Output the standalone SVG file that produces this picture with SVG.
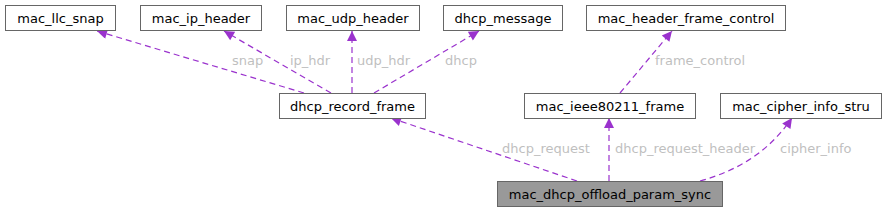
<svg xmlns="http://www.w3.org/2000/svg" width="887" height="212" viewBox="0 0 887 212">
<style>
.box{fill:#ffffff;stroke:#666666;stroke-width:1}
.cur{fill:#999999;stroke:#666666;stroke-width:1}
.t{font-family:"DejaVu Sans",sans-serif;font-size:13px;fill:#000000;text-anchor:middle}
.e{fill:none;stroke:#9a32cd;stroke-width:1.2;stroke-dasharray:6,4}
.l{font-family:"DejaVu Sans",sans-serif;font-size:13px;fill:#bfbfbf}
</style>
<defs>
<marker id="ah" viewBox="0 0 10 10" refX="10" refY="5" markerWidth="13" markerHeight="10" markerUnits="userSpaceOnUse" orient="auto">
<path d="M0,0 L10,5 L0,10 z" fill="#9a32cd"/>
</marker>
</defs>
<rect width="887" height="212" fill="#ffffff"/>
<g id="connectors">
<path class="e" d="M304,93 L97,31" marker-end="url(#ah)"/>
<path class="e" d="M331,93 L224,31" marker-end="url(#ah)"/>
<path class="e" d="M352,93 L352,31" marker-end="url(#ah)"/>
<path class="e" d="M374,93 L479,31" marker-end="url(#ah)"/>
<path class="e" d="M620,93 L672,31" marker-end="url(#ah)"/>
<path class="e" d="M577,181 L391,118" marker-end="url(#ah)"/>
<path class="e" d="M609,181 L609,118" marker-end="url(#ah)"/>
<path class="e" d="M700,181 C740,170 770,150 792,118" marker-end="url(#ah)"/>
<text class="l" x="232" y="65">snap</text>
<text class="l" x="290" y="65">ip_hdr</text>
<text class="l" x="357" y="65">udp_hdr</text>
<text class="l" x="445" y="65">dhcp</text>
<text class="l" x="655" y="65">frame_control</text>
<text class="l" x="502" y="153">dhcp_request</text>
<text class="l" x="615" y="153">dhcp_request_header</text>
<text class="l" x="780" y="153">cipher_info</text>
</g>
<g id="mac_llc_snap"><rect class="box" x="5.5" y="5.5" width="110" height="25"/><text class="t" x="60.5" y="22.5">mac_llc_snap</text></g>
<g id="mac_ip_header"><rect class="box" x="140.5" y="5.5" width="121" height="25"/><text class="t" x="201" y="22.5">mac_ip_header</text></g>
<g id="mac_udp_header"><rect class="box" x="286.5" y="5.5" width="133" height="25"/><text class="t" x="353" y="22.5">mac_udp_header</text></g>
<g id="dhcp_message"><rect class="box" x="443.5" y="5.5" width="119" height="25"/><text class="t" x="503" y="22.5">dhcp_message</text></g>
<g id="mac_header_frame_control"><rect class="box" x="586.5" y="5.5" width="199" height="25"/><text class="t" x="686" y="22.5">mac_header_frame_control</text></g>
<g id="dhcp_record_frame"><rect class="box" x="279.5" y="93.5" width="146" height="25"/><text class="t" x="352.5" y="110.5">dhcp_record_frame</text></g>
<g id="mac_ieee80211_frame"><rect class="box" x="524.5" y="93.5" width="171" height="25"/><text class="t" x="610" y="110.5">mac_ieee80211_frame</text></g>
<g id="mac_cipher_info_stru"><rect class="box" x="720.5" y="93.5" width="161" height="25"/><text class="t" x="801" y="110.5">mac_cipher_info_stru</text></g>
<g id="mac_dhcp_offload_param_sync"><rect class="cur" x="497.5" y="181.5" width="225" height="25"/><text class="t" x="610" y="198.5">mac_dhcp_offload_param_sync</text></g>
</svg>
